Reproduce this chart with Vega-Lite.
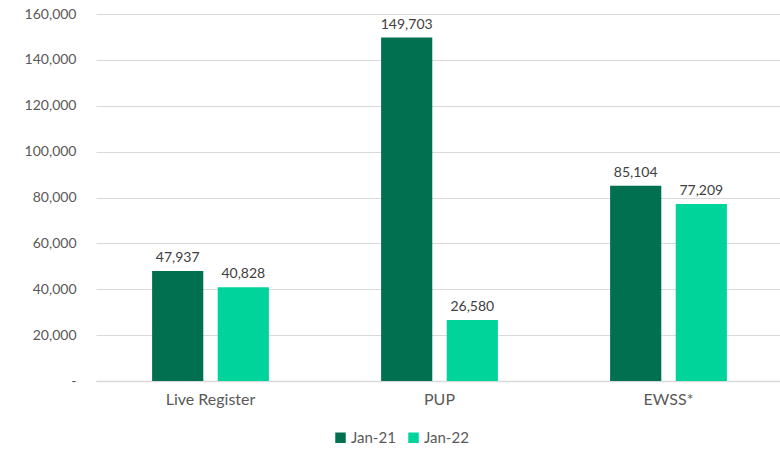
{
  "$schema": "https://vega.github.io/schema/vega-lite/v6.json",
  "width": 687,
  "height": 367,
  "autosize": {"type": "none"},
  "padding": {"left": 96, "top": 14, "right": 0, "bottom": 68},
  "background": "white",
  "config": {
    "view": {"stroke": null},
    "font": "Lato",
    "text": {"font": "Lato"}
  },
  "data": {
    "values": [
      {"category": "Live Register", "period": "Jan-21", "value": 47937},
      {"category": "Live Register", "period": "Jan-22", "value": 40828},
      {"category": "PUP", "period": "Jan-21", "value": 149703},
      {"category": "PUP", "period": "Jan-22", "value": 26580},
      {"category": "EWSS*", "period": "Jan-21", "value": 85104},
      {"category": "EWSS*", "period": "Jan-22", "value": 77209}
    ]
  },
  "encoding": {
    "x": {
      "field": "category",
      "type": "nominal",
      "sort": ["Live Register", "PUP", "EWSS*"],
      "scale": {"paddingInner": 0.49, "paddingOuter": 0.245},
      "axis": {
        "title": null,
        "labelAngle": 0,
        "labelFont": "Lato",
        "labelFontSize": 16,
        "labelColor": "#595959",
        "labelPadding": 10,
        "ticks": false,
        "domainColor": "#d9d9d9",
        "domainWidth": 1.5
      }
    },
    "xOffset": {
      "field": "period",
      "type": "nominal",
      "scale": {"paddingInner": 0.22}
    },
    "y": {
      "field": "value",
      "type": "quantitative",
      "scale": {"domain": [0, 160000], "nice": false},
      "axis": {
        "title": null,
        "values": [0, 20000, 40000, 60000, 80000, 100000, 120000, 140000, 160000],
        "labelExpr": "datum.value == 0 ? '-' : format(datum.value, ',')",
        "labelFont": "Lato",
        "labelFontSize": 14,
        "labelColor": "#595959",
        "labelPadding": 20,
        "ticks": false,
        "domain": false,
        "gridColor": "#d9d9d9",
        "gridWidth": 1.2
      }
    }
  },
  "layer": [
    {
      "mark": {"type": "bar"},
      "encoding": {
        "color": {
          "field": "period",
          "type": "nominal",
          "scale": {"domain": ["Jan-21", "Jan-22"], "range": ["#007050", "#00D49A"]},
          "legend": {
            "title": null,
            "orient": "none",
            "direction": "horizontal",
            "legendX": 237,
            "legendY": 416,
            "symbolType": "square",
            "symbolSize": 110,
            "symbolStrokeWidth": 0,
            "labelFont": "Lato",
            "labelFontSize": 15,
            "labelColor": "#595959",
            "columnPadding": 10,
            "labelOffset": 3
          }
        }
      }
    },
    {
      "mark": {"type": "text", "dy": -13, "fontSize": 14, "color": "#404040", "font": "Lato"},
      "encoding": {
        "text": {"field": "value", "type": "quantitative", "format": ","}
      }
    }
  ]
}
